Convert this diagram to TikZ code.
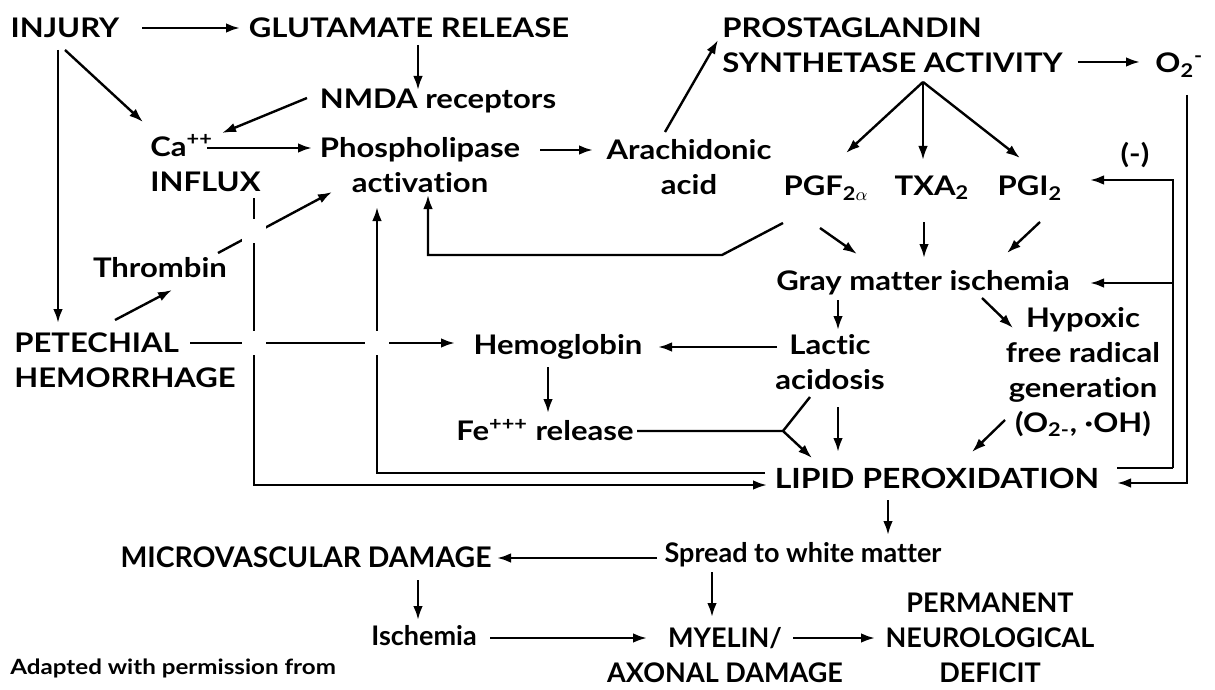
\documentclass[tikz,border=0pt]{standalone}
\usepackage{fontspec}
\setmainfont{Lato}[FakeStretch=1.15,Ligatures=NoCommon]
\newfontfamily\narrowfont{Lato}[Ligatures=NoCommon]
\usetikzlibrary{arrows.meta,calc}
\begin{document}
\begin{tikzpicture}[x=0.5pt,y=-0.5pt,
  lab/.style={font=\bfseries\fontsize{13.5}{17.5}\selectfont, inner sep=1pt, align=center},
  nlab/.style={lab, font=\narrowfont\bfseries\fontsize{13.5}{17.5}\selectfont},
  arr/.style={line width=1.2pt, -{Latex[length=7pt,width=4.8pt]}},
  ln/.style={line width=1.2pt},
  gap/.style={fill=white}]
\useasboundingbox (0,0) rectangle (1215,690);
\fill[white] (0,0) rectangle (1215,690);

% nodes
\node[lab] (inj) at (65,28) {INJURY};
\node[lab] (glu) at (409,28) {GLUTAMATE RELEASE};
\node[lab] (nmda) at (438,101) {NMDA receptors};
\node[lab,align=left,anchor=west] (ca) at (148,163) {Ca\textsuperscript{++}\\INFLUX};
\node[lab] (phos) at (420,165) {Phospholipase\\activation};
\node[lab] (ara) at (689,167) {Arachidonic\\acid};
\node[lab,align=left,anchor=west] (pros) at (720,45) {PROSTAGLANDIN\\SYNTHETASE ACTIVITY};
\node[lab,anchor=west] (o2) at (1153,65) {O\textsubscript{2}\textsuperscript{-}};
\node[lab] (pgf) at (826,188) {PGF\textsubscript{2$\alpha$}};
\node[lab] (txa) at (932,188) {TXA\textsubscript{2}};
\node[lab] (pgi) at (1030,188) {PGI\textsubscript{2}};
\node[lab] (neg) at (1135,155) {(-)};
\node[lab] (gray) at (923,283) {Gray matter ischemia};
\node[lab] (lac) at (830,362) {Lactic\\acidosis};
\node[lab] (hyp) at (1083,372) {Hypoxic\\free radical\\generation\\(O\textsubscript{2-}, ·OH)};
\node[lab] (hem) at (558,347) {Hemoglobin};
\node[lab] (fe) at (545,430) {Fe\textsuperscript{+++} release};
\node[lab,font=\bfseries\fontsize{13.9}{17.5}\selectfont] (lip) at (937,478) {LIPID PEROXIDATION};
\node[lab] (thr) at (160,268) {Thrombin};
\node[lab,align=left,anchor=west] (pet) at (12,360) {PETECHIAL\\HEMORRHAGE};
\node[nlab] (spr) at (803,555) {Spread to white matter};
\node[nlab,font=\narrowfont\bfseries\fontsize{14.2}{17.5}\selectfont] (mic) at (306,557) {MICROVASCULAR DAMAGE};
\node[nlab] (isc) at (424,636) {Ischemia};
\node[nlab] (mye) at (725,655) {MYELIN/\\AXONAL DAMAGE};
\node[nlab] (per) at (990,638) {PERMANENT\\NEUROLOGICAL\\DEFICIT};
\node[lab,anchor=west,font=\bfseries\fontsize{10.5}{14}\selectfont] (ad) at (8,668) {Adapted with permission from};

% connectors
\draw[arr] ($(inj)+(77,0)$) -- ($(glu)+(-169,0)$);
\draw[arr] ($(glu)+(9,17)$) -- ($(nmda)+(-20,-11)$);
\draw[arr] ($(nmda)+(-131,-3)$) -- ($(ca.west)+(74,-30)$);
\draw[arr] ($(inj)+(0,22)$) -- ($(ca.west)+(-5,-41)$);
\draw[arr] ($(inj)+(-7,22)$) -- ($(pet.west)+(46,-37)$);
\draw[arr] ($(pet.west)+(103,-40)$) -- ($(thr)+(12,22)$);
\draw[arr] ($(thr)+(58,-15)$) -- ($(phos)+(-88,27)$);
\draw[arr] ($(ca.west)+(59,-15)$) -- ($(phos)+(-108,-17)$);
\draw[arr] ($(phos)+(120,-15)$) -- ($(ara)+(-96,-17)$);
\draw[arr] ($(ara)+(-24,-35)$) -- ($(pros.west)+(-2,-5)$);
\draw[arr] ($(pros.west)+(358,17)$) -- ($(o2.west)+(-13,-3)$);
\coordinate (apex) at ($(pros.west)+(203,37)$);
\draw[arr] (apex) -- ($(pgf)+(20,-35)$);
\draw[arr] (apex) -- ($(txa)+(-9,-28)$);
\draw[arr] (apex) -- ($(pgi)+(-10,-30)$);
\draw[arr] ($(pgf)+(-43,35)$) -- ++(-61,32) -| ($(phos)+(8,30)$);
\draw[arr] ($(pgf)+(-6,40)$) -- ($(gray)+(-66,-29)$);
\draw[arr] ($(txa)+(-8,34)$) -- ($(gray)+(1,-25)$);
\draw[arr] ($(pgi)+(10,34)$) -- ($(gray)+(84,-30)$);
\draw[arr] ($(gray)+(-85,17)$) -- ($(lac)+(8,-32)$);
\draw[arr] ($(gray)+(59,15)$) -- ($(hyp)+(-70,-44)$);
\draw[arr] ($(lac)+(-53,-15)$) -- ($(hem)+(100,0)$);
\draw[arr] ($(pet.west)+(178,-17)$) -- ($(hem)+(-103,-4)$);
\draw[arr] ($(hem)+(-10,20)$) -- ($(fe)+(3,-17)$);
\draw[arr] ($(fe)+(92,1)$) -- ++(146,0) coordinate (yj) -- ($(lip)+(-125,-20)$);
\draw[ln] ($(lac)+(-20,35)$) -- (yj);
\draw[arr] ($(lac)+(8,45)$) -- ($(lip)+(-99,-26)$);
\draw[arr] ($(hyp)+(-78,48)$) -- ($(lip)+(35,-26)$);
\draw[arr] ($(lip)+(-172,-5)$) -| ($(phos)+(-43,42)$);
\draw[arr] ($(ca.west)+(106,35)$) |- ($(lip)+(-170,7)$);
\draw[arr] ($(o2.west)+(34,30)$) |- ($(lip)+(180,5)$);
\draw[ln] ($(lip)+(180,-10)$) -- ++(56,0) coordinate (fb);
\draw[arr] (fb) |- ($(pgi)+(60,-8)$);
\draw[arr] (fb |- gray.center) -- ($(gray)+(167,0)$);
\draw[arr] ($(lip)+(-49,22)$) -- ($(spr)+(85,-20)$);
\draw[arr] ($(spr)+(-146,3)$) -- ($(mic)+(191,1)$);
\draw[arr] ($(mic)+(112,23)$) -- ($(isc)+(-6,-16)$);
\draw[arr] ($(isc)+(66,2)$) -- ($(mye)+(-78,-17)$);
\draw[arr] ($(spr)+(-91,17)$) -- ($(mye)+(-13,-38)$);
\draw[arr] ($(mye)+(68,-17)$) -- ($(per)+(-115,0)$);

% line-crossing gaps
\fill[gap] (254,343) +(-12,-12) rectangle +(12,12);
\fill[gap] (377,343) +(-12,-12) rectangle +(12,12);
\fill[gap] (254,231) +(-12,-12) rectangle +(12,12);
\end{tikzpicture}
\end{document}
